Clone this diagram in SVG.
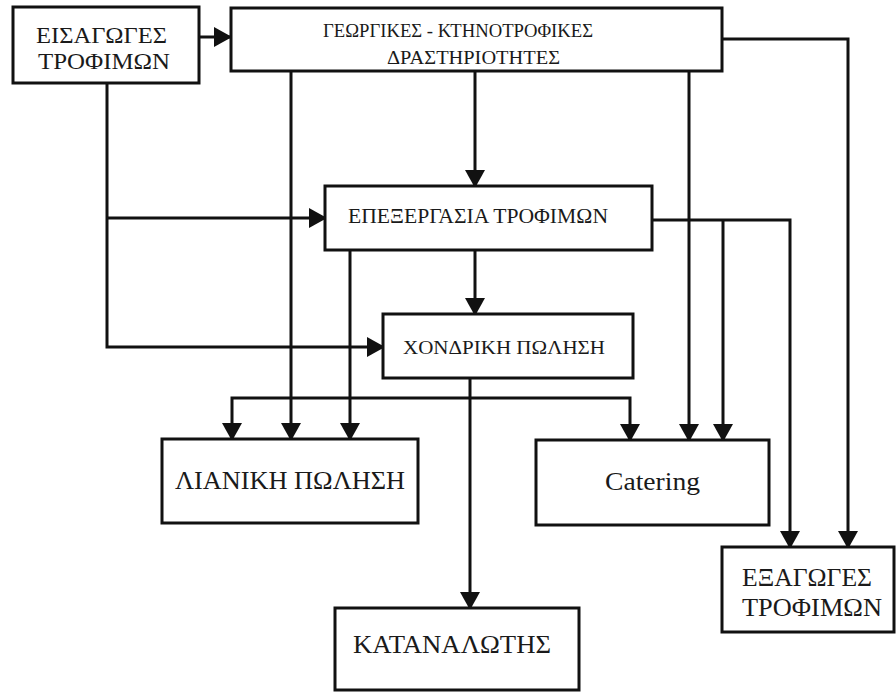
<svg xmlns="http://www.w3.org/2000/svg" width="896" height="693" viewBox="0 0 896 693">
<style>
.box{fill:#fff;stroke:#111;stroke-width:3}
.t{font-family:"Liberation Serif","DejaVu Serif","Times New Roman",serif;fill:#1a1a1a;text-anchor:start}
.c{fill:none;stroke:#111;stroke-width:3}
.a{marker-end:url(#ah)}
</style>
<defs>
<marker id="ah" viewBox="0 0 18 20" refX="16" refY="10" markerWidth="18" markerHeight="20" markerUnits="userSpaceOnUse" orient="auto">
<path d="M0,0 L18,10 L0,20 z" fill="#111"/>
</marker>
</defs>
<rect width="896" height="693" fill="#fff"/>
<g id="connectors">
<path class="c a" d="M199,37 H230"/>
<path class="c" d="M107,83 V347 H382"/>
<path class="c a" d="M382,347 H383"/>
<path class="c a" d="M107,218 H325"/>
<path class="c a" d="M475,71 V186"/>
<path class="c a" d="M291,71 V439"/>
<path class="c a" d="M689,71 V440"/>
<path class="c a" d="M722,39 H848 V547"/>
<path class="c a" d="M475,250 V314"/>
<path class="c a" d="M350,250 V439"/>
<path class="c a" d="M652,220 H790 V547"/>
<path class="c a" d="M723,220 V440"/>
<path class="c a" d="M470,378 V608"/>
<path class="c a" d="M470,398 H232 V439"/>
<path class="c a" d="M470,398 H630 V440"/>
</g>
<g id="n-imports">
<rect class="box" x="13" y="7" width="186" height="76"/>
<text class="t" x="36" y="43" font-size="24" textLength="131" lengthAdjust="spacingAndGlyphs">ΕΙΣΑΓΩΓΕΣ</text>
<text class="t" x="38" y="69" font-size="24" textLength="132" lengthAdjust="spacingAndGlyphs">ΤΡΟΦΙΜΩΝ</text>
</g>
<g id="n-agri">
<rect class="box" x="231" y="8" width="491" height="63"/>
<text class="t" x="323" y="37" font-size="19" textLength="270" lengthAdjust="spacingAndGlyphs">ΓΕΩΡΓΙΚΕΣ - ΚΤΗΝΟΤΡΟΦΙΚΕΣ</text>
<text class="t" x="387" y="64" font-size="19" textLength="173" lengthAdjust="spacingAndGlyphs">ΔΡΑΣΤΗΡΙΟΤΗΤΕΣ</text>
</g>
<g id="n-processing">
<rect class="box" x="325" y="186" width="327" height="64"/>
<text class="t" x="348" y="223" font-size="20" textLength="260" lengthAdjust="spacingAndGlyphs">ΕΠΕΞΕΡΓΑΣΙΑ ΤΡΟΦΙΜΩΝ</text>
</g>
<g id="n-wholesale">
<rect class="box" x="383" y="314" width="250" height="64"/>
<text class="t" x="403" y="354" font-size="19" textLength="202" lengthAdjust="spacingAndGlyphs">ΧΟΝΔΡΙΚΗ ΠΩΛΗΣΗ</text>
</g>
<g id="n-retail">
<rect class="box" x="162" y="439" width="256" height="84"/>
<text class="t" x="175" y="489" font-size="26" textLength="230" lengthAdjust="spacingAndGlyphs">ΛΙΑΝΙΚΗ ΠΩΛΗΣΗ</text>
</g>
<g id="n-catering">
<rect class="box" x="536" y="440" width="233" height="85"/>
<text class="t" x="605" y="490" font-size="26" textLength="95" lengthAdjust="spacingAndGlyphs">Catering</text>
</g>
<g id="n-exports">
<rect class="box" x="722" y="547" width="172" height="85"/>
<text class="t" x="742" y="586" font-size="26" textLength="130" lengthAdjust="spacingAndGlyphs">ΕΞΑΓΩΓΕΣ</text>
<text class="t" x="742" y="616" font-size="26" textLength="140" lengthAdjust="spacingAndGlyphs">ΤΡΟΦΙΜΩΝ</text>
</g>
<g id="n-consumer">
<rect class="box" x="335" y="608" width="244" height="82"/>
<text class="t" x="353" y="653" font-size="26" textLength="198" lengthAdjust="spacingAndGlyphs">ΚΑΤΑΝΑΛΩΤΗΣ</text>
</g>
</svg>
